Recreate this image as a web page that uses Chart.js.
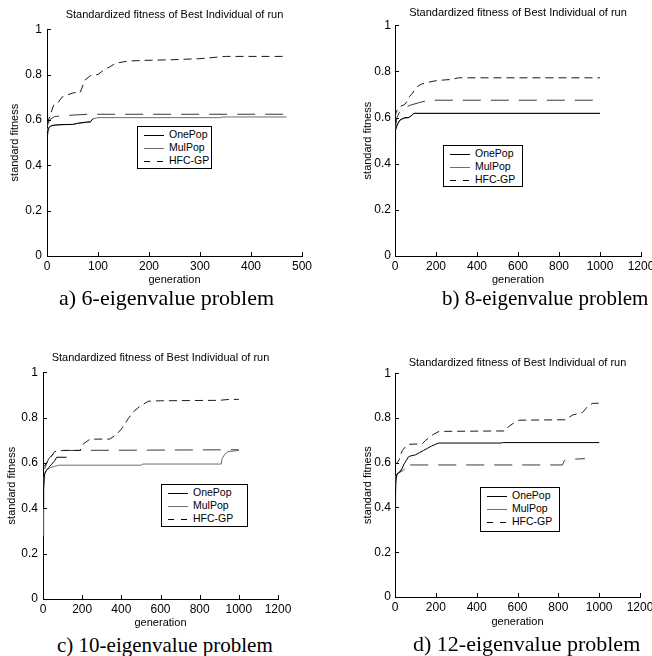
<!DOCTYPE html>
<html>
<head>
<meta charset="utf-8">
<script src="https://cdn.jsdelivr.net/npm/chart.js"></script>
<style>
  html, body { margin: 0; padding: 0; background: #fff; overflow: hidden; }
  body { width: 652px; height: 656px; position: relative; }
  canvas { position: absolute; }
  .cap { position: absolute; font-family: "Times New Roman", "Liberation Serif", serif; font-size: 22px; line-height: 22px; color: #000; white-space: nowrap; }
  .legend { position: absolute; border: 1px solid #000; background: #fff; box-sizing: border-box; padding-top: 1px;
            font-family: Arial, "Liberation Sans", sans-serif; font-size: 10.5px; color: #000; white-space: nowrap; }
  .legend .row { height: 13px; position: relative; }
  .legend .ln { position: absolute; left: 6px; top: 7px; width: 20px; height: 1px; }
  .legend .tx { position: absolute; left: 31px; top: 0; line-height: 13px; }
</style>
</head>
<body>
<canvas id="chartA" width="320" height="290" style="left:0;top:0"></canvas>
<canvas id="chartB" width="340" height="290" style="left:326px;top:0"></canvas>
<canvas id="chartC" width="300" height="302" style="left:0;top:330px"></canvas>
<canvas id="chartD" width="340" height="302" style="left:326px;top:330px"></canvas>

<div class="cap" style="left:59px;top:287px">a) 6-eigenvalue problem</div>
<div class="cap" style="left:442px;top:287px;font-size:21px">b) 8-eigenvalue problem</div>
<div class="cap" style="left:57px;top:634px;font-size:21px">c) 10-eigenvalue problem</div>
<div class="cap" style="left:413px;top:633px">d) 12-eigenvalue problem</div>

<div id="legA" class="legend" style="left:137px;top:126px;width:75px;height:43px"></div>
<div id="legB" class="legend" style="left:443px;top:145px;width:80px;height:42px"></div>
<div id="legC" class="legend" style="left:161px;top:484px;width:87px;height:43px"></div>
<div id="legD" class="legend" style="left:480px;top:487px;width:80px;height:45px"></div>

<script>
// legend entries
const legendLabels = ['OnePop', 'MulPop', 'HFC-GP'];
const titleText = 'Standardized fitness of Best Individual of run';

// --- a) 6-eigenvalue problem ---
const aOneX = [0, 1, 2, 4, 7, 12, 20, 35, 50, 60, 75, 85, 90];
const aOneY = [0.50, 0.53, 0.55, 0.565, 0.572, 0.576, 0.578, 0.58, 0.58, 0.585, 0.59, 0.592, 0.605];
const aMulX = [0, 2, 5, 10, 20, 50, 60, 85, 90, 100, 340, 345, 470];
const aMulY = [0.55, 0.565, 0.572, 0.576, 0.578, 0.58, 0.585, 0.59, 0.605, 0.61, 0.61, 0.613, 0.613];
const aHfcX = [0, 3, 6, 13, 20, 29, 40, 52, 65, 70, 74, 85, 100, 111, 124, 135, 160, 200, 240, 300, 350, 470];
const aHfcY = [0.58, 0.60, 0.62, 0.665, 0.67, 0.70, 0.71, 0.72, 0.72, 0.75, 0.775, 0.795, 0.80, 0.82, 0.835, 0.85, 0.86, 0.863, 0.865, 0.87, 0.88, 0.88];
const aExtX = [0, 5, 15, 40, 80, 470];
const aExtY = [0.57, 0.60, 0.615, 0.62, 0.625, 0.625];

// --- b) 8-eigenvalue problem ---
const bOneX = [0, 1, 2, 4, 8, 15, 25, 35, 50, 65, 75, 85, 92, 1000];
const bOneY = [0.34, 0.45, 0.52, 0.545, 0.56, 0.575, 0.59, 0.595, 0.60, 0.60, 0.605, 0.612, 0.618, 0.618];
const bMulX = [0, 3, 10, 20, 40, 70, 92, 1000];
const bMulY = [0.50, 0.55, 0.57, 0.585, 0.595, 0.60, 0.618, 0.618];
const bHfcX = [0, 5, 15, 30, 45, 60, 70, 85, 95, 110, 130, 160, 190, 230, 275, 310, 1000];
const bHfcY = [0.60, 0.62, 0.64, 0.65, 0.655, 0.67, 0.69, 0.705, 0.72, 0.735, 0.745, 0.752, 0.758, 0.762, 0.765, 0.772, 0.772];
const bExtX = [0, 10, 25, 50, 80, 120, 150, 200, 1000];
const bExtY = [0.55, 0.60, 0.63, 0.645, 0.655, 0.665, 0.672, 0.675, 0.675];

// --- c) 10-eigenvalue problem ---
const cOneX = [0, 3, 8, 15, 30, 45, 60, 70, 120];
const cOneY = [0.40, 0.50, 0.55, 0.565, 0.58, 0.595, 0.61, 0.625, 0.625];
const cMulX = [0, 2, 5, 10, 20, 40, 60, 80, 500, 510, 910, 915, 930, 945, 1000];
const cMulY = [0.28, 0.45, 0.53, 0.555, 0.57, 0.58, 0.585, 0.59, 0.59, 0.595, 0.595, 0.62, 0.64, 0.65, 0.655];
const cHfcX = [0, 10, 34, 60, 100, 190, 205, 240, 340, 375, 401, 435, 461, 495, 538, 600, 900, 950, 1000];
const cHfcY = [0.58, 0.59, 0.62, 0.65, 0.655, 0.655, 0.683, 0.705, 0.705, 0.725, 0.75, 0.795, 0.825, 0.85, 0.872, 0.874, 0.876, 0.88, 0.88];
const cExtX = [0, 10, 30, 60, 100, 1000];
const cExtY = [0.45, 0.58, 0.62, 0.645, 0.655, 0.658];

// --- d) 12-eigenvalue problem ---
const dOneX = [0, 2, 5, 10, 25, 35, 45, 55, 65, 75, 100, 120, 140, 160, 180, 200, 215, 520, 530, 1000];
const dOneY = [0.23, 0.45, 0.53, 0.55, 0.56, 0.575, 0.595, 0.61, 0.625, 0.63, 0.635, 0.645, 0.655, 0.665, 0.675, 0.683, 0.688, 0.688, 0.69, 0.69];
const dMulX = [0, 3, 10, 20, 30, 40, 48];
const dMulY = [0.40, 0.54, 0.55, 0.555, 0.56, 0.565, 0.575];
const dHfcX = [0, 10, 20, 30, 36, 50, 69, 134, 150, 183, 216, 540, 555, 591, 607, 836, 869, 918, 942, 967, 1000];
const dHfcY = [0.59, 0.60, 0.612, 0.64, 0.655, 0.67, 0.682, 0.685, 0.70, 0.724, 0.74, 0.742, 0.76, 0.784, 0.79, 0.792, 0.813, 0.824, 0.85, 0.865, 0.866];
const dExtX = [0, 10, 30, 45, 60, 120, 820, 830, 850, 930];
const dExtY = [0.50, 0.55, 0.565, 0.58, 0.59, 0.59, 0.59, 0.61, 0.615, 0.618];

const lineStyles = {
  one: { color: '#000', dash: [] },
  mul: { color: '#6e6e6e', dash: [] },
  hfc: { color: '#1a1a1a', dash: [8, 5] },
  ext: { color: '#3a3a3a', dash: [18, 10] }
};

Chart.defaults.font.family = 'Arial, "Liberation Sans", sans-serif';
Chart.defaults.color = '#000';

// MATLAB style tick marks pointing into the plot
const inwardTicks = {
  id: 'inwardTicks',
  afterDraw(chart) {
    const { ctx, chartArea, scales } = chart;
    ctx.save();
    ctx.strokeStyle = '#000';
    ctx.lineWidth = 1;
    ctx.beginPath();
    scales.x.ticks.forEach(t => {
      const px = Math.round(scales.x.getPixelForValue(t.value)) + 0.5;
      ctx.moveTo(px, chartArea.bottom);
      ctx.lineTo(px, chartArea.bottom - 4);
    });
    scales.y.ticks.forEach(t => {
      const py = Math.round(scales.y.getPixelForValue(t.value)) + 0.5;
      ctx.moveTo(chartArea.left, py);
      ctx.lineTo(chartArea.left + 4, py);
    });
    ctx.stroke();
    ctx.restore();
  }
};

function series(x, y, style, label) {
  return {
    label: label,
    data: x.map((v, i) => ({ x: v, y: y[i] })),
    borderColor: style.color,
    borderWidth: 1,
    borderDash: style.dash,
    pointRadius: 0,
    tension: 0,
    fill: false
  };
}

function makePanel(id, p) {
  new Chart(document.getElementById(id), {
    type: 'line',
    data: {
      datasets: [
        series(p.one[0], p.one[1], lineStyles.one, legendLabels[0]),
        series(p.hfc[0], p.hfc[1], lineStyles.hfc, legendLabels[2]),
        series(p.mul[0], p.mul[1], lineStyles.mul, legendLabels[1]),
        series(p.ext[0], p.ext[1], lineStyles.ext, '')
      ]
    },
    options: {
      responsive: false,
      animation: false,
      layout: { padding: { left: 0, right: p.padRight, top: 0, bottom: 0 } },
      plugins: {
        legend: { display: false },
        tooltip: { enabled: false },
        title: {
          display: true,
          text: titleText,
          fullSize: false,
          color: '#000',
          font: { size: 11, weight: 'normal' },
          padding: { top: p.titleTop, bottom: p.titleBottom }
        }
      },
      scales: {
        x: {
          type: 'linear',
          min: 0,
          max: p.xMax,
          ticks: { stepSize: p.xStep, font: { size: 12 }, padding: 3, maxRotation: 0, callback: v => String(v) },
          grid: { display: false, drawTicks: false },
          border: { display: true, color: '#000', width: 1 },
          title: { display: true, text: 'generation', font: { size: 11 }, padding: { top: 0, bottom: p.xTitlePad } },
          afterFit(scale) { scale.height = p.xH; }
        },
        y: {
          min: 0,
          max: 1,
          ticks: { stepSize: 0.2, font: { size: 12 }, padding: p.yTickPad, callback: v => String(Number(v.toFixed(1))) },
          grid: { display: false, drawTicks: false },
          border: { display: true, color: '#000', width: 1 },
          title: { display: true, text: 'standard fitness', font: { size: 11 }, padding: { top: p.yTitlePad, bottom: 0 } },
          afterFit(scale) { scale.width = p.yW; }
        }
      }
    },
    plugins: [inwardTicks]
  });
}

makePanel('chartA', { one: [aOneX, aOneY], mul: [aMulX, aMulY], hfc: [aHfcX, aHfcY], ext: [aExtX, aExtY],
  xMax: 500, xStep: 100, padRight: 18, titleTop: 8, titleBottom: 8, xH: 34, xTitlePad: 3, yW: 47, yTitlePad: 8, yTickPad: 5 });
makePanel('chartB', { one: [bOneX, bOneY], mul: [bMulX, bMulY], hfc: [bHfcX, bHfcY], ext: [bExtX, bExtY],
  xMax: 1200, xStep: 200, padRight: 25, titleTop: 6, titleBottom: 6, xH: 34, xTitlePad: 3, yW: 69, yTitlePad: 35, yTickPad: 4 });
makePanel('chartC', { one: [cOneX, cOneY], mul: [cMulX, cMulY], hfc: [cHfcX, cHfcY], ext: [cExtX, cExtY],
  xMax: 1200, xStep: 200, padRight: 22, titleTop: 21, titleBottom: 8, xH: 33, xTitlePad: 2, yW: 43, yTitlePad: 5, yTickPad: 5 });
makePanel('chartD', { one: [dOneX, dOneY], mul: [dMulX, dMulY], hfc: [dHfcX, dHfcY], ext: [dExtX, dExtY],
  xMax: 1200, xStep: 200, padRight: 26, titleTop: 26, titleBottom: 4, xH: 35, xTitlePad: 3, yW: 69, yTitlePad: 35, yTickPad: 4 });

// legend boxes drawn as html
function fillLegend(id) {
  const box = document.getElementById(id);
  const samples = [
    'background:' + lineStyles.one.color,
    'background:' + lineStyles.mul.color,
    'background:repeating-linear-gradient(90deg,#000 0 6px,transparent 6px 13px)'
  ];
  legendLabels.forEach((name, i) => {
    const row = document.createElement('div');
    row.className = 'row';
    row.innerHTML = '<span class="ln" style="' + samples[i] + '"></span><span class="tx">' + name + '</span>';
    box.appendChild(row);
  });
}
['legA', 'legB', 'legC', 'legD'].forEach(fillLegend);
</script>
</body>
</html>
